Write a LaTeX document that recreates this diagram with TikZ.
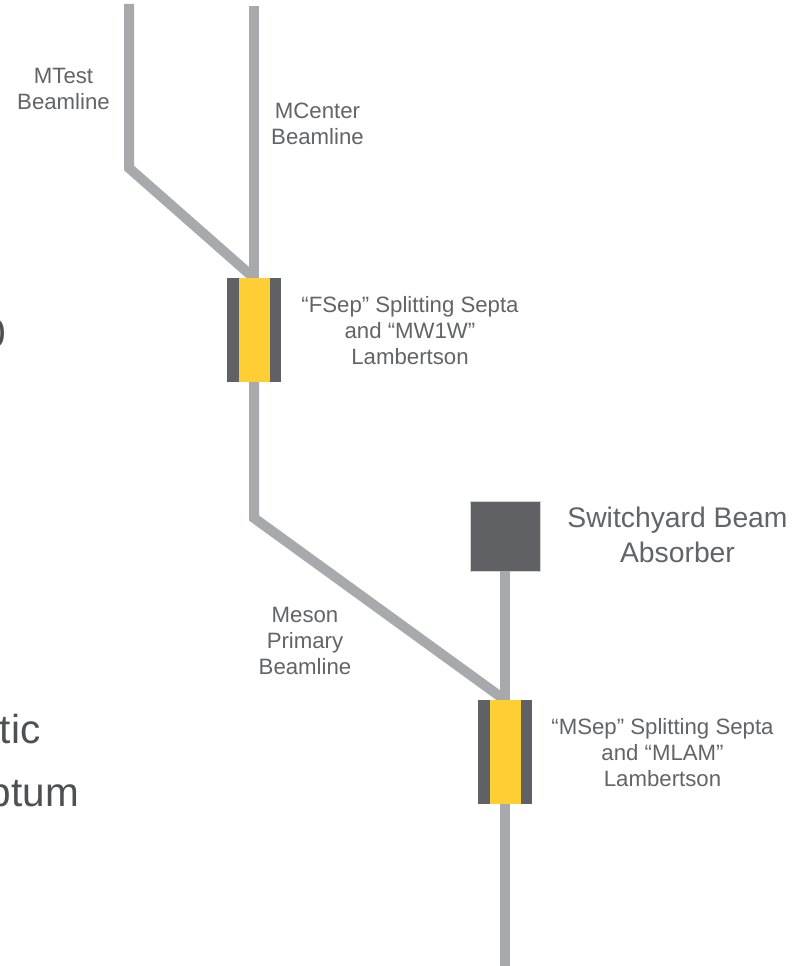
\documentclass[tikz,border=0pt]{standalone}
\usepackage{fontspec}
\setmainfont{Liberation Sans}
\definecolor{beamgray}{HTML}{A7A9AC}
\definecolor{darkgray}{HTML}{5F6164}
\definecolor{sepyellow}{HTML}{FFCD34}
\definecolor{txtgray}{HTML}{636466}
\definecolor{bigtxt}{HTML}{4F5052}
\tikzset{
  beam/.style={draw=beamgray,line width=10pt,line join=miter},
  side/.style={fill=darkgray,draw=none,minimum width=54pt,minimum height=104pt,inner sep=0pt,outer sep=0pt},
  core/.style={fill=sepyellow,draw=none,minimum width=31pt,minimum height=104pt,inner sep=0pt,outer sep=0pt},
  absorber/.style={fill=darkgray,draw=gray!35,line width=1pt,minimum width=70pt,minimum height=70pt,inner sep=0pt,outer sep=0pt},
  lbl/.style={text=txtgray,font=\fontsize{22.2}{26}\selectfont,align=center,inner sep=0pt},
  lblbig/.style={text=txtgray,font=\fontsize{28.3}{35}\selectfont,align=center,inner sep=0pt},
  frag/.style={text=bigtxt,font=\fontsize{40.5}{48}\selectfont,inner sep=0pt,anchor=base east}
}
\begin{document}
\begin{tikzpicture}[x=1pt,y=-1pt]
\useasboundingbox (0,0) rectangle (802,966);
\fill[white] (0,0) rectangle (802,966);
\coordinate (mtesttop) at (129,4);
\coordinate (mtestbend) at (129,168);
\coordinate (mcentertop) at (254,6);
\coordinate (mesonbend) at (254,518);
\coordinate (exit) at (505,966);
\node[side] (fsep) at (254,330) {};
\node[side] (msep) at (505,752) {};
\node[absorber] (abs) at (505.5,536) {};
\draw[beam] (mtesttop) -- (mtestbend) -- (fsep.north);
\draw[beam] (mcentertop) -- (fsep.north);
\draw[beam] (fsep.south) -- (mesonbend) -- (msep.north);
\draw[beam] (abs.south -| msep.north) -- (msep.north);
\draw[beam] (msep.south) -- (exit);
\node[side] at (fsep) {};
\node[core] (fcore) at (fsep) {};
\node[side] at (msep) {};
\node[core] (mcore) at (msep) {};
\node[lbl] (l1) at (63.5,89) {MTest\\Beamline};
\node[lbl] (l2) at (317.5,124) {MCenter\\Beamline};
\node[lbl] (l3) at (410,331) {“FSep” Splitting Septa\\and “MW1W”\\Lambertson};
\node[lbl] (l4) at (305,641) {Meson\\Primary\\Beamline};
\node[lbl] (l5) at (662.5,753) {“MSep” Splitting Septa\\and “MLAM”\\Lambertson};
\node[lblbig] (l6) at (677.5,535) {Switchyard Beam\\Absorber};
\node[frag] (f1) at (6,347) {0};
\node[frag] (f2) at (40.5,743) {tic};
\node[frag] (f3) at (79,806) {ptum};
\end{tikzpicture}
\end{document}
